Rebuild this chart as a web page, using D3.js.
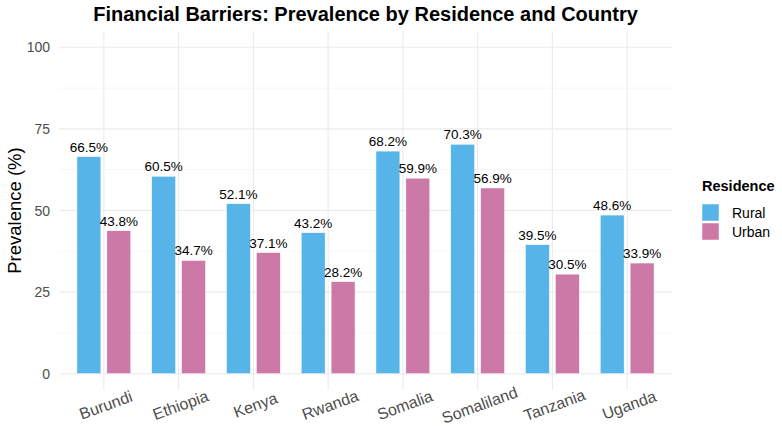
<!DOCTYPE html>
<html><head><meta charset="utf-8">
<script src="https://cdn.jsdelivr.net/npm/d3@7"></script>
<style>body{margin:0;background:#fff}svg{font-family:"Liberation Sans",Arial,sans-serif}</style>
</head><body>
<svg id="c" width="782" height="426"></svg>
<script>
const countries = ["Burundi","Ethiopia","Kenya","Rwanda","Somalia","Somaliland","Tanzania","Uganda"];
const series = ["Rural","Urban"];
const rural = [66.5,60.5,52.1,43.2,68.2,70.3,39.5,48.6];
const urban = [43.8,34.7,37.1,28.2,59.9,56.9,30.5,33.9];
const yTicks = [0,25,50,75,100];
const yMinor = [12.5,37.5,62.5,87.5];
const colors = ["#56B4E9","#CC79A7"];

const svg = d3.select("#c");
const L = 59, R = 672, T = 31, B = 390;
// ggplot-like discrete x scale: 0.6 unit expansion on each side
const x = d3.scalePoint().domain(countries).range([L,R]).padding(0.6);
const unit = x.step();
const y = d3.scaleLinear().domain([-5,105]).range([B,T]);

const g = svg.append("g");
g.selectAll(".ymin").data(yMinor).join("line").attr("x1",L).attr("x2",R)
 .attr("y1",d=>y(d)).attr("y2",d=>y(d)).attr("stroke","#f2f2f2").attr("stroke-width",0.6);
g.selectAll(".ymaj").data(yTicks).join("line").attr("x1",L).attr("x2",R)
 .attr("y1",d=>y(d)).attr("y2",d=>y(d)).attr("stroke","#ebebeb").attr("stroke-width",1.1);
g.selectAll(".xmaj").data(countries).join("line").attr("x1",d=>x(d)).attr("x2",d=>x(d))
 .attr("y1",T).attr("y2",B).attr("stroke","#ebebeb").attr("stroke-width",1.1);

const data = [];
countries.forEach((c,i)=>{
  data.push({c, s:0, v:rural[i]});
  data.push({c, s:1, v:urban[i]});
});
const bw = unit*0.32, off = unit*0.2;
g.selectAll(".bar").data(data).join("rect")
 .attr("x",d=>x(d.c)+(d.s===0?-off:off)-bw/2)
 .attr("width",bw)
 .attr("y",d=>y(d.v)).attr("height",d=>y(0)-y(d.v))
 .attr("fill",d=>colors[d.s]).attr("stroke","#fff").attr("stroke-width",0.5);
g.selectAll(".lbl").data(data).join("text")
 .attr("x",d=>x(d.c)+(d.s===0?-off:off))
 .attr("y",d=>y(d.v)-5)
 .attr("text-anchor","middle").attr("font-size",13.5).attr("fill","#000")
 .text(d=>d.v.toFixed(1)+"%");

g.selectAll(".yt").data(yTicks).join("text")
 .attr("x",50).attr("y",d=>y(d)+5).attr("text-anchor","end")
 .attr("font-size",14).attr("fill","#4d4d4d").text(d=>d);
g.selectAll(".xt").data(countries).join("text")
 .attr("transform",d=>`translate(${x(d)+2},${405}) rotate(-20)`)
 .attr("dy","0.35em")
 .attr("text-anchor","middle").attr("font-size",16).attr("fill","#4d4d4d").text(d=>d);

svg.append("text").attr("transform",`translate(21,${(T+B)/2}) rotate(-90)`)
 .attr("text-anchor","middle").attr("font-size",18.5).attr("fill","#000").text("Prevalence (%)");
svg.append("text").attr("x",(L+R)/2).attr("y",21).attr("text-anchor","middle")
 .attr("font-size",20).attr("font-weight","bold").attr("fill","#000")
 .text("Financial Barriers: Prevalence by Residence and Country");

const lg = svg.append("g").attr("transform","translate(702,0)");
lg.append("text").attr("x",0).attr("y",191).attr("font-size",14.5).attr("font-weight","bold").text("Residence");
series.forEach((s,i)=>{
  lg.append("rect").attr("x",0).attr("y",204+i*19).attr("width",17).attr("height",17)
    .attr("fill",colors[i]).attr("stroke","#fff").attr("stroke-width",0.5);
  lg.append("text").attr("x",30).attr("y",218+i*19).attr("font-size",14).attr("fill","#000").text(s);
});
</script>
</body></html>
